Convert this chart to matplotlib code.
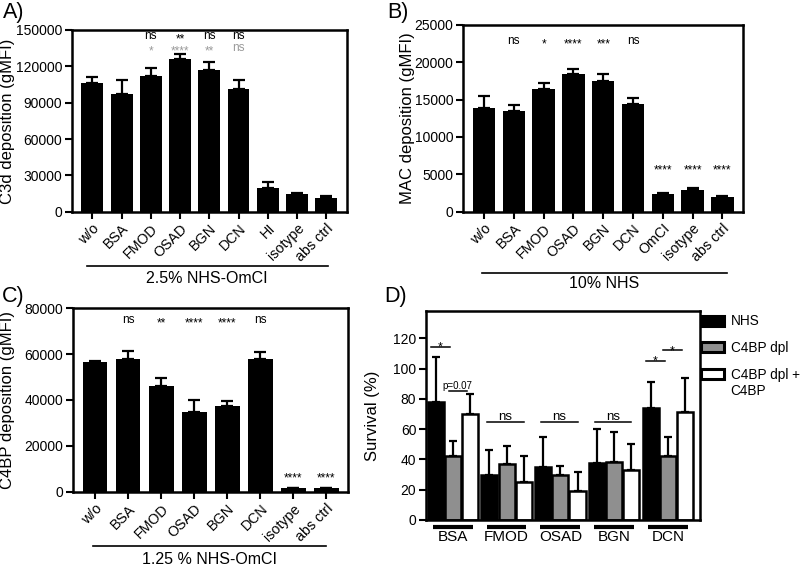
import numpy as np
import matplotlib
matplotlib.use("Agg")
import matplotlib.pyplot as plt
from matplotlib.transforms import blended_transform_factory

plt.rcParams['font.family'] = ['Liberation Sans', 'DejaVu Sans']
plt.rcParams['font.size'] = 10
plt.rcParams['axes.linewidth'] = 1.8

# A) C3d deposition, 2.5% NHS-OmCI
a_labels = ['w/o', 'BSA', 'FMOD', 'OSAD', 'BGN', 'DCN', 'HI', 'isotype', 'abs ctrl']
a_mean = [106000, 97200, 112300, 126300, 117000, 101300, 19800, 14600, 11600]
a_err = [5000, 11200, 6000, 4200, 6300, 7400, 4400, 1100, 1600]
a_sig_black = ['', '', 'ns', '**', 'ns', 'ns', '', '', '']
a_sig_gray = ['', '', '*', '****', '**', 'ns', '', '', '']

# B) MAC deposition, 10% NHS
b_labels = ['w/o', 'BSA', 'FMOD', 'OSAD', 'BGN', 'DCN', 'OmCI', 'isotype', 'abs ctrl']
b_mean = [13840, 13480, 16380, 18390, 17500, 14460, 2370, 2860, 1960]
b_err = [1650, 810, 810, 670, 980, 720, 90, 310, 90]
b_sig_top = ['', 'ns', '*', '****', '***', 'ns', '', '', '']
b_sig_low = ['', '', '', '', '', '', '****', '****', '****']

# C) C4BP deposition, 1.25 % NHS-OmCI
c_labels = ['w/o', 'BSA', 'FMOD', 'OSAD', 'BGN', 'DCN', 'isotype', 'abs ctrl']
c_mean = [56730, 58040, 46110, 34910, 37530, 57890, 1890, 1890]
c_err = [300, 3490, 3490, 5090, 2180, 2910, 0, 0]
c_sig_top = ['', 'ns', '**', '****', '****', 'ns', '', '']
c_sig_low = ['', '', '', '', '', '', '****', '****']

# D) Survival
d_groups = ['BSA', 'FMOD', 'OSAD', 'BGN', 'DCN']
d_series = ['NHS', 'C4BP dpl', 'C4BP dpl +']
d_nhs = [78, 30, 35, 37.5, 74]
d_nhs_err = [30, 16, 20, 22.5, 17]
d_dpl = [42, 37, 30, 38.5, 42]
d_dpl_err = [10, 12, 6, 19.5, 13]
d_add = [70, 25, 19, 33, 71.5]
d_add_err = [13, 17, 13, 17, 22.5]


def sig(ax, x, y, s, color='black', size=8.5):
    if not s:
        return
    dy = -2.6 if '*' in s else 0
    ax.annotate(s, (x, y), xytext=(0, dy), textcoords='offset points',
                ha='center', va='baseline', color=color, fontsize=size)


def bar_panel(ax, labels, mean, err, ymax, step, ylabel, xlim):
    x = np.arange(len(labels))
    ax.bar(x, mean, width=0.75, color='black', zorder=2)
    ax.errorbar(x, mean, yerr=[np.zeros(len(err)), err], fmt='none',
                ecolor='black', elinewidth=1.6, capsize=4, capthick=1.6, zorder=1)
    ax.set_xlim(*xlim)
    ax.set_ylim(0, ymax)
    ax.set_yticks(np.arange(0, ymax + 1, step))
    ax.set_xticks(x)
    ax.set_xticklabels(labels, rotation=45, ha='right', rotation_mode='anchor', fontsize=10.3)
    ax.tick_params(direction='out', length=5, width=1.5, pad=2)
    ax.set_ylabel(ylabel, fontsize=12, va='center')
    return x


def group_line(ax, x0, x1, yline, ytext, text):
    tr = blended_transform_factory(ax.transData, ax.transAxes)
    ax.plot([x0, x1], [yline, yline], transform=tr, clip_on=False, color='black', lw=1.2)
    ax.text((x0 + x1) / 2, ytext, text, transform=tr, ha='center', va='center', fontsize=11.5)


fig = plt.figure(figsize=(8, 5.66), dpi=100)

# ---- A ----
axA = fig.add_axes([0.09, 0.626, 0.344, 0.321])
x = bar_panel(axA, a_labels, a_mean, a_err, 150000, 30000, 'C3d deposition (gMFI)', (-0.7, 8.72))
axA.yaxis.set_label_coords(-0.233, 0.5)
for xi, s in zip(x, a_sig_black):
    sig(axA, xi, 142900, s)
for xi, s in zip(x, a_sig_gray):
    sig(axA, xi, 133000, s, color='#9a9a9a')
group_line(axA, -0.2, 8.05, -0.30, -0.37, '2.5% NHS-OmCI')

# ---- B ----
axB = fig.add_axes([0.579, 0.626, 0.35, 0.33])
x = bar_panel(axB, b_labels, b_mean, b_err, 25000, 5000, 'MAC deposition (gMFI)', (-0.7, 8.7))
axB.yaxis.set_label_coords(-0.2, 0.5)
for xi, s in zip(x, b_sig_top):
    sig(axB, xi, 22460, s)
for xi, s in zip(x, b_sig_low):
    sig(axB, xi, 5560, s)
group_line(axB, -0.08, 8.14, -0.328, -0.385, '10% NHS')

# ---- C ----
axC = fig.add_axes([0.091, 0.131, 0.344, 0.3246])
x = bar_panel(axC, c_labels, c_mean, c_err, 80000, 20000, 'C4BP deposition (gMFI)', (-0.67, 7.65))
axC.yaxis.set_label_coords(-0.236, 0.5)
for xi, s in zip(x, c_sig_top):
    sig(axC, xi, 73460, s)
for xi, s in zip(x, c_sig_low):
    sig(axC, xi, 6320, s)
group_line(axC, -0.05, 7.0, -0.296, -0.366, '1.25 % NHS-OmCI')

# ---- D ----
axD = fig.add_axes([0.5325, 0.0813, 0.3425, 0.369])
gx = np.arange(len(d_groups))
offs = [-0.32, 0.0, 0.32]
w = 0.3
vals = [d_nhs, d_dpl, d_add]
errs = [d_nhs_err, d_dpl_err, d_add_err]
fills = ['black', '#8f8f8f', 'white']
for off, v, e, fc, name in zip(offs, vals, errs, fills, d_series):
    axD.bar(gx + off, v, width=w, color=fc, edgecolor='black', linewidth=1.8,
            label=name, zorder=2)
    axD.errorbar(gx + off, v, yerr=[np.zeros(len(e)), e], fmt='none', ecolor='black',
                 elinewidth=1.6, capsize=3.2, capthick=1.6, zorder=1)
axD.set_xlim(-0.5, 4.6)
axD.set_ylim(0, 138)
axD.set_yticks(np.arange(0, 121, 20))
axD.set_xticks(gx)
axD.set_xticklabels(d_groups, fontsize=11)
axD.tick_params(axis='x', length=0, pad=7)
axD.tick_params(axis='y', direction='out', length=5, width=1.5, pad=2)
axD.set_ylabel('Survival (%)', fontsize=12, va='center')
axD.yaxis.set_label_coords(-0.197, 0.5)

trD = blended_transform_factory(axD.transData, axD.transAxes)
for g in gx:
    axD.plot([g - 0.37, g + 0.37], [-0.033, -0.033], transform=trD, clip_on=False,
             color='black', lw=3, solid_capstyle='butt')

# significance brackets: (group, bar i, bar j, height, text)
d_brackets = [(0, 0, 1, 114, '*'), (0, 1, 2, 85, 'p=0.07'),
              (1, 0, 2, 65, 'ns'), (2, 0, 2, 65, 'ns'), (3, 0, 2, 65, 'ns'),
              (4, 0, 1, 105, '*'), (4, 1, 2, 112, '*')]
for g, i, j, h, s in d_brackets:
    if i == 0 and j == 2:
        x0, x1 = g - 0.36, g + 0.32
    else:
        x0, x1 = g + offs[i] - 0.08, g + offs[j] - 0.06
    axD.plot([x0, x1], [h, h], color='black', lw=1.1)
    if s == '*':
        axD.annotate(s, ((x0 + x1) / 2, h), xytext=(0, -2.5), textcoords='offset points',
                     ha='center', va='baseline', fontsize=9)
    elif s == 'ns':
        axD.annotate(s, ((x0 + x1) / 2, h), xytext=(0, 1.5), textcoords='offset points',
                     ha='center', va='baseline', fontsize=9.5)
    else:
        axD.annotate(s, ((x0 + x1) / 2, h), xytext=(0, 2), textcoords='offset points',
                     ha='center', va='baseline', fontsize=7)

leg = axD.legend(loc='upper left', bbox_to_anchor=(1.005, 0.985), frameon=False,
                 borderaxespad=0, borderpad=0, handlelength=1.65, handleheight=0.75,
                 handletextpad=0.5, labelspacing=0.95, fontsize=9.8)
for p in leg.get_patches():
    p.set_linewidth(2.2)

# second line of the last legend label, set just under it
fig.canvas.draw()
bb = leg.get_texts()[2].get_window_extent().transformed(fig.transFigure.inverted())
fig.text(bb.x0, bb.y0 - 0.004, 'C4BP', ha='left', va='top', fontsize=9.8)

# panel letters
for lx, ly, t in [(3, 2, 'A)'), (387, 2, 'B)'), (2, 286, 'C)'), (384, 286, 'D)')]:
    fig.text(lx / 800, 1 - ly / 566, t, ha='left', va='top', fontsize=15.5)

fig.savefig('out.png', dpi=100)
